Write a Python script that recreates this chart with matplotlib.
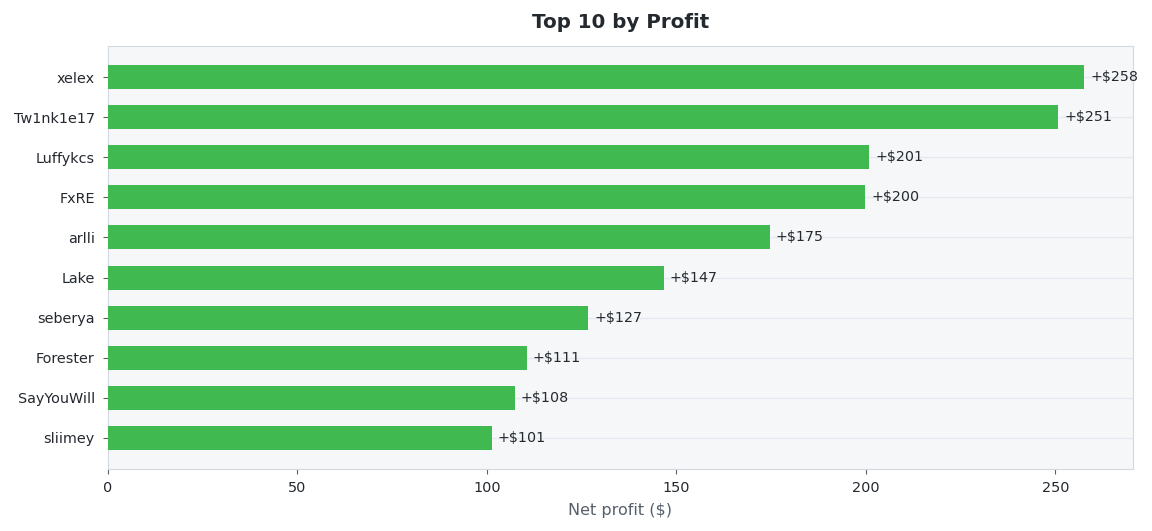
import matplotlib
matplotlib.use("Agg")
import matplotlib.pyplot as plt

names = ["xelex", "Tw1nk1e17", "Luffykcs", "FxRE", "arlli", "Lake",
         "seberya", "Forester", "SayYouWill", "sliimey"]
profits = [257.6, 250.8, 200.9, 199.9, 174.6, 146.6, 126.7, 110.5, 107.4, 101.3]
value_labels = ["+$258", "+$251", "+$201", "+$200", "+$175", "+$147",
                "+$127", "+$111", "+$108", "+$101"]

plt.rcParams['font.family'] = ['DejaVu Sans']
fig = plt.figure(figsize=(11.52, 5.31), dpi=100)
ax = fig.add_axes([108/1152, 1-469/531, (1133-108)/1152, (469-46)/531])
ax.set_facecolor("#f6f7f9")

ypos = list(range(len(names)))
ax.barh(ypos, profits, height=0.6, color="#3fb950", zorder=3)
ax.set_yticks(ypos)
ax.set_yticklabels(names)
ax.invert_yaxis()
ax.set_xlim(0, 270.5)

for y, v, lab in zip(ypos, profits, value_labels):
    ax.annotate(lab, (v, y), xytext=(4.3, 0), textcoords="offset points",
                va="center", ha="left", fontsize=10.3, color="#24292f", zorder=4)

ax.grid(axis="y", color="#e6e9ef", linewidth=1, zorder=0)
ax.grid(axis="x", visible=False)
for s in ax.spines.values():
    s.set_color("#d3d9e3")
ax.tick_params(axis="both", labelsize=10.4, labelcolor="#24292f", length=3.5,
               color="#57606a", pad=6)
ax.tick_params(axis="x", pad=5)
ax.set_xlabel("Net profit ($)", fontsize=11.5, color="#57606a", labelpad=6)
ax.set_title("Top 10 by Profit", fontsize=14.3, fontweight="bold", color="#24292f", pad=13)

fig.savefig("out.png", dpi=100)
